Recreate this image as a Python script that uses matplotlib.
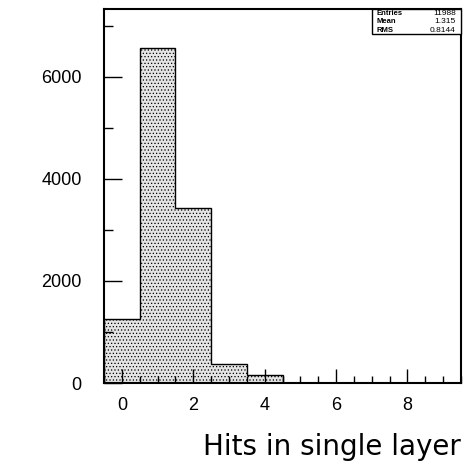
import numpy as np
import matplotlib
matplotlib.use('Agg')
import matplotlib.pyplot as plt
from matplotlib.patches import Rectangle
from matplotlib.ticker import MultipleLocator

# histogram contents (bins of width 1 centred on 0..9)
edges = np.arange(-0.5, 10.0, 1.0)
counts = [1255, 6575, 3437, 367, 163, 0, 0, 0, 0, 0]

stat_names = ['Entries', 'Mean', 'RMS']
stat_values = ['11988', '1.315', '0.8144']

plt.rcParams['font.family'] = ['Liberation Sans', 'DejaVu Sans']
plt.rcParams['hatch.color'] = 'black'
plt.rcParams['hatch.linewidth'] = 0.5

fig = plt.figure(figsize=(4.71, 4.66), dpi=100)
ax = fig.add_axes([104 / 471, 1 - 383 / 466, 357 / 471, 374 / 466])

# filled stippled area, then the step outline on top
ax.stairs(counts, edges, fill=True, facecolor='#e4e4e4', hatch='.....',
          edgecolor='black', linewidth=0)
ax.stairs(counts, edges, fill=False, color='black', linewidth=1.0)

ax.set_xlim(-0.5, 9.5)
ax.set_ylim(0, 7330)

ax.xaxis.set_major_locator(MultipleLocator(2))
ax.xaxis.set_minor_locator(MultipleLocator(0.5))
ax.yaxis.set_major_locator(MultipleLocator(2000))
ax.yaxis.set_minor_locator(MultipleLocator(1000))

ax.tick_params(axis='both', which='both', direction='in', width=1.0,
               labelsize=13, top=False, right=False)
ax.tick_params(axis='x', which='major', length=10, pad=10)
ax.tick_params(axis='x', which='minor', length=5)
ax.tick_params(axis='y', which='major', length=13, pad=16)
ax.tick_params(axis='y', which='minor', length=6.5)

for s in ax.spines.values():
    s.set_linewidth(1.5)

ax.text(1.0, -0.1925, 'Hits in single layer', transform=ax.transAxes,
        ha='right', va='baseline', fontsize=20, family='DejaVu Sans')

# statistics box
bx0, by0 = 0.75, 0.932
ax.add_patch(Rectangle((bx0, by0), 1.0 - bx0, 1.0 - by0, transform=ax.transAxes,
                       facecolor='white', edgecolor='black', linewidth=1.0,
                       clip_on=False, zorder=5))
row_h = (1.0 - by0) / 3
for i, (name, val) in enumerate(zip(stat_names, stat_values)):
    yy = 1.0 - row_h * (i + 0.5)
    ax.text(bx0 + 0.012, yy, name, transform=ax.transAxes, ha='left',
            va='center', fontsize=5.5, fontweight='bold', zorder=6)
    ax.text(0.985, yy, val, transform=ax.transAxes, ha='right',
            va='center', fontsize=6, zorder=6)

fig.savefig('out.png', dpi=100)
